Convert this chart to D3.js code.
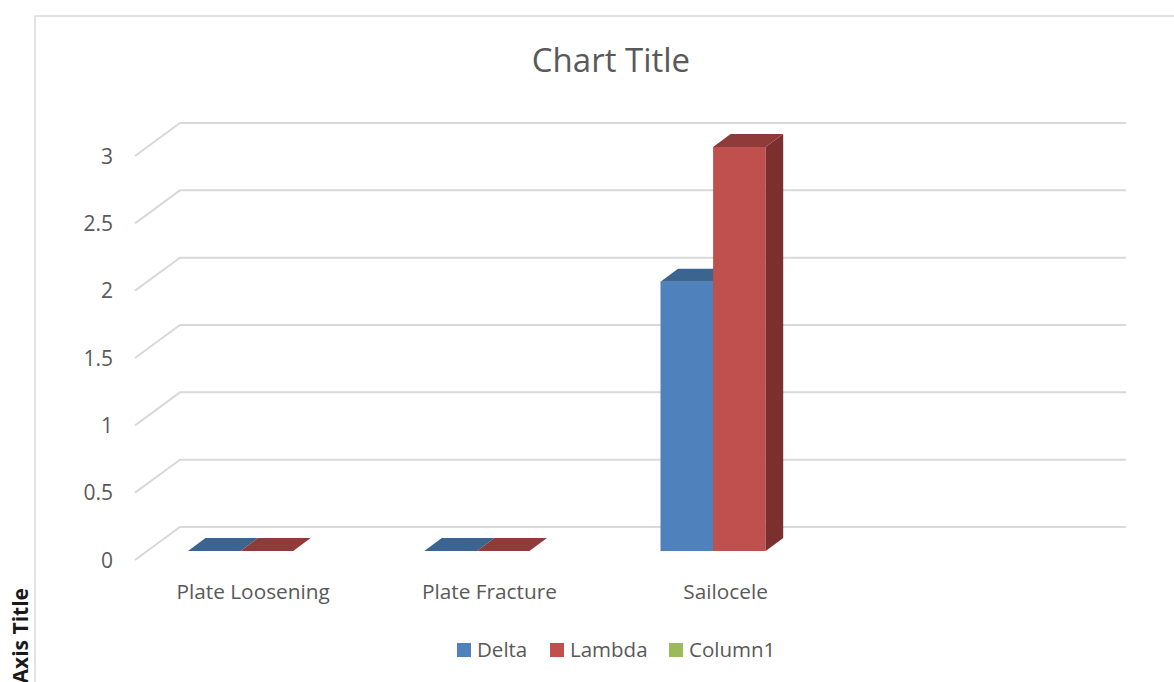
<!DOCTYPE html>
<html>
<head>
<meta charset="utf-8">
<script src="https://cdn.jsdelivr.net/npm/d3@7/dist/d3.min.js"></script>
<style>
html,body{margin:0;padding:0;background:#fff;}
svg{display:block;font-family:"Open Sans",sans-serif;}
</style>
</head>
<body>
<svg id="chart" width="1174" height="682"></svg>
<script>
const categories = ["Plate Loosening", "Plate Fracture", "Sailocele", ""];
const seriesNames = ["Delta", "Lambda", "Column1"];
const deltaValues = [0, 0, 2, null];
const lambdaValues = [0, 0, 3, null];
const column1Values = [null, null, null, null];
const yTicks = [0, 0.5, 1, 1.5, 2, 2.5, 3];
const tickLabels = ["0", "0.5", "1", "1.5", "2", "2.5", "3"];
const chartTitle = "Chart Title";
const axisTitle = "Axis Title";

const colors = {
  Delta:   {front: "#4f81bd", top: "#3c6491", side: "#2f4f73"},
  Lambda:  {front: "#c0504d", top: "#8f3b39", side: "#7b2f2e"},
  Column1: {front: "#9bbb59", top: "#769043", side: "#5f7436"}
};
const seriesValues = [deltaValues, lambdaValues, column1Values];

const svg = d3.select("#chart");

// chart border
svg.append("rect").attr("x", 35).attr("y", 16).attr("width", 1200).attr("height", 720)
  .attr("fill", "none").attr("stroke", "#d9d9d9").attr("stroke-width", 1.5);

// title
svg.append("text").attr("x", 611).attr("y", 72).attr("text-anchor", "middle")
  .attr("font-size", 33).attr("fill", "#595959").text(chartTitle);

// geometry
const floorDepth = {dx: 45, dy: -33};
const barPlane = {dx: 12, dy: -9};
const barDepth = {dx: 17.5, dy: -13};

const x = d3.scaleBand().domain(categories).range([135, 1080]);
const y = d3.scaleLinear().domain([0, 3]).range([560, 156]);
const xs = d3.scaleBand().domain(seriesNames).range([41, 41 + 3 * 52.6]);

// gridlines (front diagonal + back wall line)
const grid = svg.append("g");
yTicks.forEach(t => {
  const yf = y(t);
  grid.append("path")
    .attr("d", `M${x.range()[0]},${yf} L${x.range()[0] + floorDepth.dx},${yf + floorDepth.dy} L${x.range()[1] + floorDepth.dx + 1},${yf + floorDepth.dy}`)
    .attr("fill", "none").attr("stroke", "#d9d9d9").attr("stroke-width", 2);
});

// y tick labels
svg.append("g").selectAll("text").data(yTicks).join("text")
  .attr("x", 113).attr("y", d => y(d)).attr("dy", "0.36em")
  .attr("text-anchor", "end").attr("font-size", 21).attr("fill", "#595959")
  .text((d, i) => tickLabels[i]);

// category labels
svg.append("g").selectAll("text").data(categories).join("text")
  .attr("x", d => x(d) + x.bandwidth() / 2).attr("y", 599)
  .attr("text-anchor", "middle").attr("font-size", 20.8).attr("fill", "#595959")
  .text(d => d);

// bars
const bars = svg.append("g");
categories.forEach((cat, ci) => {
  seriesNames.forEach((s, si) => {
    const v = seriesValues[si][ci];
    if (v === null || v === undefined) return;
    const x0 = x(cat) + xs(s) + barPlane.dx;
    const w = xs.bandwidth();
    const yb = y(0) + barPlane.dy;
    const yt = y(v) + barPlane.dy;
    const c = colors[s];
    if (yb - yt > 0) {
      bars.append("rect").attr("x", x0).attr("y", yt).attr("width", w).attr("height", yb - yt)
        .attr("fill", c.front);
      bars.append("path")
        .attr("d", `M${x0 + w},${yt} L${x0 + w + barDepth.dx},${yt + barDepth.dy} L${x0 + w + barDepth.dx},${yb + barDepth.dy} L${x0 + w},${yb} Z`)
        .attr("fill", c.side);
    }
    bars.append("path")
      .attr("d", `M${x0},${yt} L${x0 + barDepth.dx},${yt + barDepth.dy} L${x0 + w + barDepth.dx},${yt + barDepth.dy} L${x0 + w},${yt} Z`)
      .attr("fill", c.top);
  });
});

// legend
const legendX = [457, 550, 669];
const legend = svg.append("g");
seriesNames.forEach((s, i) => {
  legend.append("rect").attr("x", legendX[i]).attr("y", 643).attr("width", 14).attr("height", 14)
    .attr("fill", colors[s].front);
  legend.append("text").attr("x", legendX[i] + 20).attr("y", 657)
    .attr("font-size", 20.5).attr("fill", "#595959").text(s);
});

// axis title
svg.append("text").attr("transform", "translate(28,588) rotate(-90)")
  .attr("text-anchor", "end").attr("font-size", 21).attr("font-weight", "bold")
  .attr("fill", "#1a1a1a").text(axisTitle);
</script>
</body>
</html>
